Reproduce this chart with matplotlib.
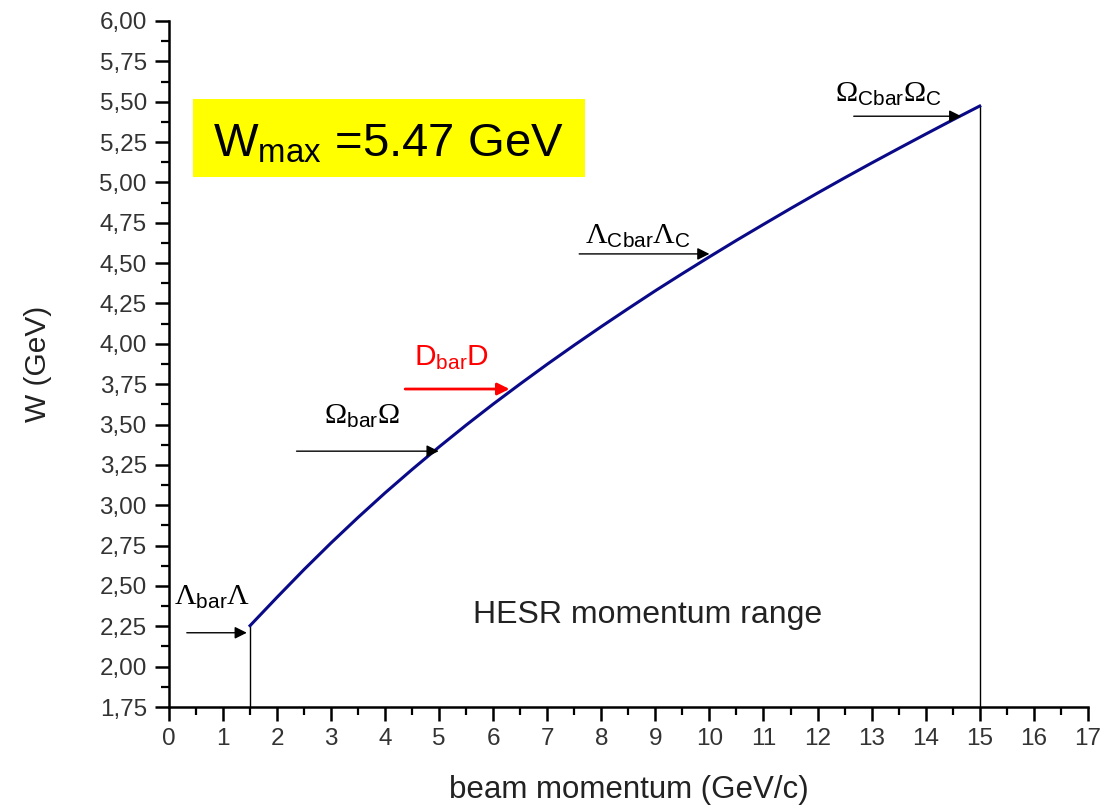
import matplotlib
matplotlib.use('Agg')
import matplotlib.pyplot as plt
from matplotlib.patches import Rectangle
from matplotlib.ticker import MultipleLocator, FuncFormatter

# curva W(p)
momento = [1.5, 2.0, 2.5, 3.0, 3.5, 4.0, 4.5, 5.0, 5.5, 6.0, 6.5, 7.0, 7.5, 8.0,
           8.5, 9.0, 9.5, 10.0, 10.5, 11.0, 11.5, 12.0, 12.5, 13.0, 13.5, 14.0,
           14.5, 15.0]
w_gev = [2.254, 2.430, 2.602, 2.767, 2.925, 3.077, 3.222, 3.362, 3.497, 3.627,
         3.752, 3.874, 3.992, 4.107, 4.219, 4.329, 4.435, 4.539, 4.641, 4.740,
         4.838, 4.934, 5.028, 5.120, 5.210, 5.299, 5.387, 5.473]

# limiares (rotulo, inicio da seta, fim da seta, W, cor)
rotulos = [r'$\Lambda_{\mathsf{bar}}\Lambda$', r'$\Omega_{\mathsf{bar}}\Omega$',
           r'$\mathsf{D}_{\mathsf{bar}}\mathsf{D}$',
           r'$\Lambda_{\mathsf{Cbar}}\Lambda_{\mathsf{C}}$',
           r'$\Omega_{\mathsf{Cbar}}\Omega_{\mathsf{C}}$']
seta_inicio = [0.33, 2.36, 4.37, 7.59, 12.67]
seta_fim = [1.44, 4.99, 6.30, 10.0, 14.66]
seta_w = [2.21, 3.335, 3.72, 4.557, 5.41]
cores = ['black', 'black', 'red', 'black', 'black']
rotulo_x = [0.8, 3.57, 5.22, 8.68, 13.32]
rotulo_y = [2.43, 3.55, 3.91, 4.67, 5.55]

plt.rcParams['mathtext.fontset'] = 'custom'
plt.rcParams['mathtext.rm'] = 'Liberation Serif'
plt.rcParams['mathtext.it'] = 'Liberation Serif:italic'
plt.rcParams['mathtext.sf'] = 'Liberation Sans'
plt.rcParams['font.family'] = ['Liberation Sans', 'DejaVu Sans']

fig = plt.figure(figsize=(11.03, 8.07), dpi=100)
ax = fig.add_axes([0.1532, 0.1239, 0.8330, 0.8501])

ax.plot(momento, w_gev, color='#0a0a88', lw=2.2, zorder=3)

# linhas verticais nos limites do HESR
ax.plot([momento[0], momento[0]], [1.75, w_gev[0]], color='black', lw=1.0)
ax.plot([momento[-1], momento[-1]], [1.75, w_gev[-1]], color='black', lw=1.0)

for rot, x0, x1, y, c, tx, ty in zip(rotulos, seta_inicio, seta_fim, seta_w,
                                    cores, rotulo_x, rotulo_y):
    lw = 2.0 if c == 'red' else 1.0
    ax.annotate('', xy=(x1, y), xytext=(x0, y),
                arrowprops=dict(arrowstyle='-|>', color=c, lw=lw,
                                mutation_scale=18, shrinkA=0, shrinkB=0))
    ax.text(tx, ty, rot, color=c, fontsize=21.5, ha='center', va='center')

ax.text(8.86, 2.32, 'HESR momentum range', fontsize=23, ha='center',
        va='center', color='#222222')

# caixa amarela
ax.add_patch(Rectangle((0.44, 5.034), 7.25, 0.483, facecolor='yellow',
                       edgecolor='none', zorder=2))
ax.text(0.81, 5.16, r'W$_{\mathsf{max}}$ =5.47 GeV', fontsize=34,
        ha='left', va='baseline', zorder=4)

ax.set_xlim(0, 17)
ax.set_ylim(1.75, 6.0)
ax.xaxis.set_major_locator(MultipleLocator(1))
ax.xaxis.set_minor_locator(MultipleLocator(0.5))
ax.yaxis.set_major_locator(MultipleLocator(0.25))
ax.yaxis.set_minor_locator(MultipleLocator(0.125))
ax.yaxis.set_major_formatter(FuncFormatter(lambda v, p: f'{v:.2f}'.replace('.', ',')))

for lado in ['top', 'right']:
    ax.spines[lado].set_visible(False)
for lado in ['left', 'bottom']:
    ax.spines[lado].set_linewidth(1.8)

ax.tick_params(which='major', direction='out', length=10, width=1.8,
               labelsize=17.5, labelcolor='#333333')
ax.tick_params(which='minor', direction='out', length=6, width=1.6)
ax.tick_params(axis='y', which='major', pad=6)
ax.tick_params(axis='x', which='major', pad=5)

ax.set_xlabel('beam momentum (GeV/c)', fontsize=22.5, labelpad=18, color='#222222')
ax.set_ylabel('W (GeV)', fontsize=21.5, labelpad=34, color='#222222')

plt.savefig('out.png', dpi=100)
